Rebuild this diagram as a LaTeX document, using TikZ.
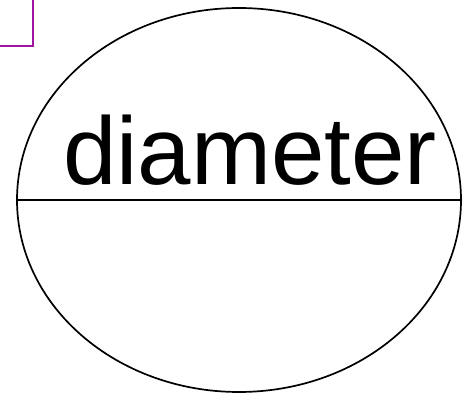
\documentclass[tikz,border=0pt]{standalone}
\usepackage{fontspec}
\setmainfont{Liberation Sans}
\usetikzlibrary{shapes.geometric}
\definecolor{boxpurple}{RGB}{160,20,160}
\tikzset{
  circ/.style={draw=black, ellipse, line width=1.7pt, minimum width=444pt, minimum height=384pt, inner sep=0pt, outer sep=0pt},
  diam/.style={draw=black, line width=2.3pt},
  pbox/.style={draw=boxpurple, line width=2.3pt, inner sep=0pt, outer sep=0pt, minimum width=60pt, minimum height=80pt},
  lbl/.style={font=\fontsize{96}{100}\selectfont, inner sep=0pt, anchor=base}
}
\begin{document}
\begin{tikzpicture}[x=1pt,y=1pt]
\useasboundingbox (0,0) rectangle (462,393);
\clip (0,0) rectangle (462,393);
\node[pbox, anchor=south east] (box) at (33,347) {};
\node[circ] (ell) at (239,193) {};
\coordinate (rend) at (470,193);
\draw[diam] (ell.west) -- (rend);
\node[lbl] (txt) at (250,208) {diameter};
\end{tikzpicture}
\end{document}
